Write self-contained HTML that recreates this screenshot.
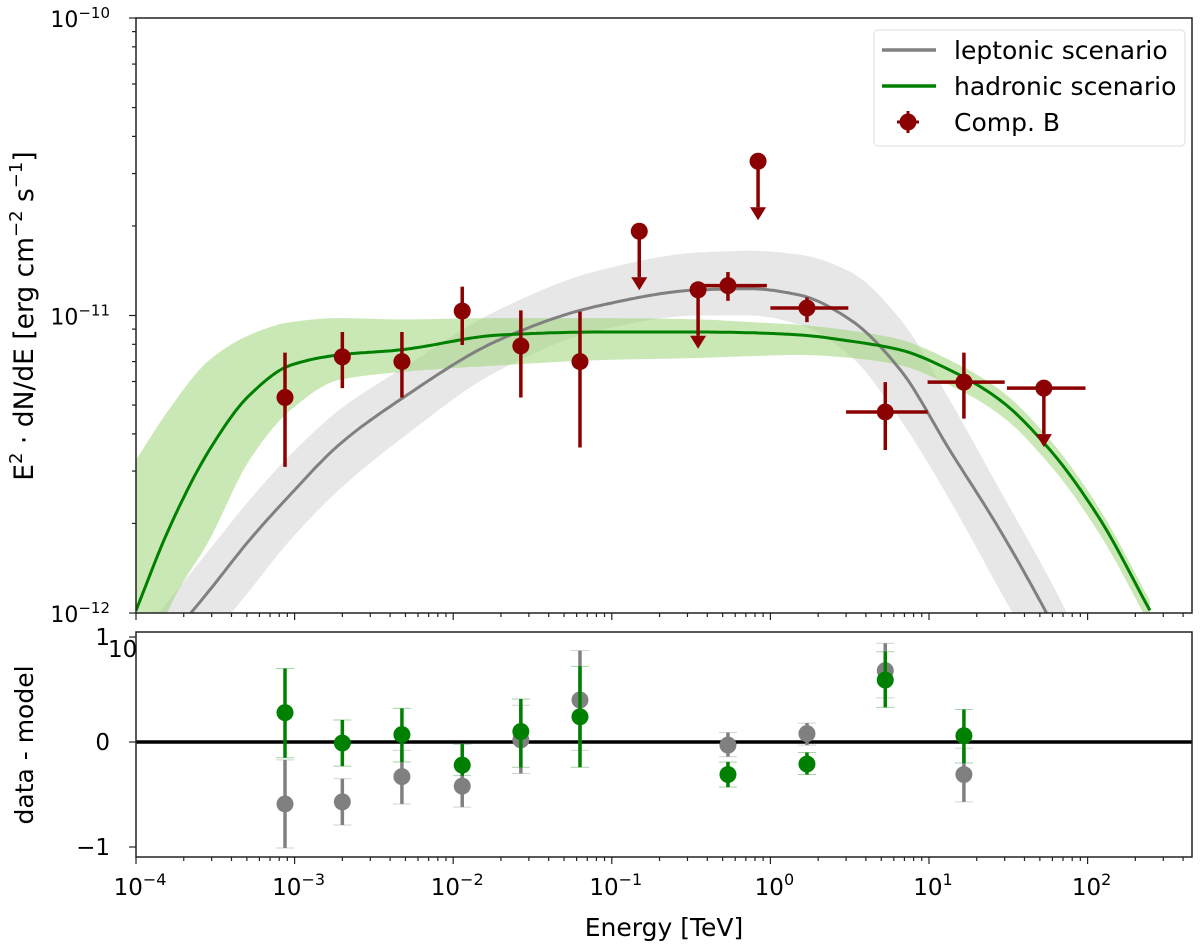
<!DOCTYPE html>
<html><head><meta charset="utf-8">
<style>
html,body{margin:0;padding:0;background:#fff;}
svg{display:block;font-family:"DejaVu Sans","Liberation Sans",sans-serif;}
</style></head>
<body>
<div style="position:relative;width:1200px;height:946px;">
<svg id="chart" width="1200" height="946" viewBox="0 0 1200 946" xmlns="http://www.w3.org/2000/svg" style="position:absolute;left:0;top:0;">
<defs>
<clipPath id="clipTop"><rect x="136" y="18" width="1056" height="595"/></clipPath>
<clipPath id="clipBot"><rect x="136" y="632" width="1056" height="225"/></clipPath>
</defs>
<g id="topPanel"></g>
<g id="botPanel"></g>
<g id="axesG"></g>
<text x="108" y="657" font-size="23">10</text>
<text x="664" y="936" font-size="25" text-anchor="middle">Energy [TeV]</text>
<text transform="translate(33,316) rotate(-90)" font-size="26.5" text-anchor="middle">E<tspan dy="-11" font-size="18">2</tspan><tspan dy="11"> · dN/dE [erg cm</tspan><tspan dy="-11" font-size="18">−2</tspan><tspan dy="11"> s</tspan><tspan dy="-11" font-size="18">−1</tspan><tspan dy="11">]</tspan></text>
<text transform="translate(33,745) rotate(-90)" font-size="25" text-anchor="middle">data - model</text>
<g>
<rect x="874" y="30" width="311" height="116" rx="4" fill="#fff" fill-opacity="0.85" stroke="#ddd" stroke-width="1"/>
<line x1="882" x2="936" y1="50" y2="50" stroke="#808080" stroke-width="3.5"/>
<text x="954" y="59" font-size="25">leptonic scenario</text>
<line x1="882" x2="936" y1="86" y2="86" stroke="#008000" stroke-width="3.5"/>
<text x="954" y="95" font-size="25">hadronic scenario</text>
<line x1="897" x2="919" y1="122" y2="122" stroke="#8b0000" stroke-width="3"/>
<line x1="908" x2="908" y1="111" y2="133" stroke="#8b0000" stroke-width="3"/>
<circle cx="908" cy="122" r="8.5" fill="#8b0000"/>
<text x="954" y="131" font-size="25">Comp. B</text>
</g>
</svg>
</div>
<script>
// ---- model curves (energy TeV, E^2 dN/dE) ----
const curveE = [1e-4,1.6e-4,2.9e-4,5.2e-4,9.4e-4,1.9e-3,4.6e-3,0.0197,0.084,0.36,0.75,1.54,3.2,6.6,13.5,28,58,120,247];
const hadF   = [1.02e-12,1.9e-12,3.53e-12,5.4e-12,6.8e-12,7.37e-12,7.66e-12,8.6e-12,8.8e-12,8.8e-12,8.75e-12,8.6e-12,8.2e-12,7.66e-12,6.56e-12,5.2e-12,3.53e-12,2.06e-12,1.02e-12];
const hadUp  = [3.27e-12,4.8e-12,7.08e-12,8.6e-12,9.5e-12,9.8e-12,9.7e-12,9.8e-12,9.8e-12,9.7e-12,9.5e-12,9.3e-12,8.9e-12,8.3e-12,7.08e-12,5.62e-12,3.82e-12,2.22e-12,1.1e-12];
const hadLo  = [4.4e-13,1.02e-12,1.76e-12,3.27e-12,4.8e-12,6.07e-12,6.45e-12,6.8e-12,7.08e-12,7.2e-12,7.3e-12,7.37e-12,7.2e-12,6.8e-12,5.83e-12,4.64e-12,3.14e-12,1.83e-12,9.1e-13];
const lepF   = [5.96e-13,8.1e-13,1.19e-12,1.76e-12,2.5e-12,3.67e-12,5.2e-12,8.3e-12,1.08e-11,1.22e-11,1.23e-11,1.17e-11,9.66e-12,6.56e-12,3.53e-12,1.9e-12,9.5e-13,4.4e-13,1.6e-13];
const lepUp  = [8.1e-13,1.1e-12,1.63e-12,2.4e-12,3.4e-12,4.8e-12,6.56e-12,1.05e-11,1.42e-11,1.63e-11,1.65e-11,1.6e-11,1.4e-11,9.7e-12,5.2e-12,2.59e-12,1.29e-12,5.96e-13,2.75e-13];
const lepLo  = [4.4e-13,5.5e-13,8.1e-13,1.19e-12,1.76e-12,2.59e-12,3.82e-12,6.56e-12,8.93e-12,1.0e-11,1.0e-11,9.3e-12,7.3e-12,4.46e-12,2.4e-12,1.19e-12,5.96e-13,2.75e-13,1.27e-13];
// ---- Comp. B flux points ----
const ptE    = [8.7e-4,2.0e-3,4.75e-3,1.14e-2,2.67e-2,6.3e-2,0.149,0.35,0.54,0.836,1.7,5.3,16.6,53];
const ptF    = [5.3e-12,7.26e-12,7.0e-12,1.035e-11,7.9e-12,7.0e-12,1.92e-11,1.22e-11,1.26e-11,3.3e-11,1.06e-11,4.74e-12,5.97e-12,5.7e-12];
const ptFup  = [7.5e-12,8.8e-12,8.8e-12,1.25e-11,1.04e-11,1.03e-11,null,null,1.40e-11,null,1.15e-11,5.97e-12,7.5e-12,null];
const ptFlo  = [3.1e-12,5.7e-12,5.3e-12,7.96e-12,5.3e-12,3.6e-12,null,null,1.12e-11,null,9.5e-12,3.53e-12,4.5e-12,null];
const ptElo  = [null,null,null,null,null,null,null,null,0.32,null,1.0,3.0,9.8,31];
const ptEhi  = [null,null,null,null,null,null,null,null,0.95,null,3.1,9.8,30,97];
const ptUL   = [false,false,false,false,false,false,true,true,false,true,false,false,false,true];
// ---- residuals ----
const resE   = [8.7e-4,2.0e-3,4.75e-3,1.14e-2,2.67e-2,6.3e-2,0.54,1.7,5.3,16.6];
const resLep = [-0.59,-0.57,-0.33,-0.42,0.02,0.40,-0.03,0.08,0.68,-0.31];
const resLepUp=[-0.17,-0.35,-0.08,-0.22,0.35,0.87,0.09,0.18,0.94,-0.06];
const resLepLo=[-1.01,-0.79,-0.59,-0.62,-0.30,-0.08,-0.14,-0.03,0.42,-0.57];
const resHad = [0.28,-0.01,0.07,-0.22,0.10,0.24,-0.31,-0.21,0.59,0.06];
const resHadUp=[0.70,0.21,0.32,-0.02,0.41,0.72,-0.19,-0.10,0.86,0.31];
const resHadLo=[-0.15,-0.23,-0.19,-0.32,-0.24,-0.24,-0.43,-0.31,0.33,-0.20];
const xTickLabels = ["-4","-3","-2","-1","0","1","2"];

const NS="http://www.w3.org/2000/svg";
const X0=136,X1=1192,DEC=158.6;
const TY0=18,TY1=613; const BY0=632,BY1=857;
function xs(e){return X0+(Math.log10(e)+4)*DEC;}
function ys(f){return TY0+(-10-Math.log10(f))*297.5;}
function yr(v){return 742-v*105;}
function mk(tag,attrs,parent){const e=document.createElementNS(NS,tag);for(const k in attrs)e.setAttribute(k,attrs[k]);parent.appendChild(e);return e;}
// monotone cubic (Fritsch-Carlson) sampled
function mono(pts){
  const n=pts.length,xsA=pts.map(p=>p[0]),ysA=pts.map(p=>p[1]);
  const d=[],m=[];
  for(let i=0;i<n-1;i++)d.push((ysA[i+1]-ysA[i])/(xsA[i+1]-xsA[i]));
  m[0]=d[0];m[n-1]=d[n-2];
  for(let i=1;i<n-1;i++){ if(d[i-1]*d[i]<=0)m[i]=0; else {const h0=xsA[i]-xsA[i-1],h1=xsA[i+1]-xsA[i];const w1=2*h1+h0,w2=h1+2*h0;m[i]=(w1+w2)/(w1/d[i-1]+w2/d[i]);} }
  const out=[];
  for(let i=0;i<n-1;i++){const h=xsA[i+1]-xsA[i];const N=Math.max(4,Math.ceil(h/4));
    for(let k=0;k<N;k++){const t=k/N,t2=t*t,t3=t2*t;
      const y=(2*t3-3*t2+1)*ysA[i]+(t3-2*t2+t)*h*m[i]+(-2*t3+3*t2)*ysA[i+1]+(t3-t2)*h*m[i+1];
      out.push([xsA[i]+t*h,y]);}}
  out.push(pts[n-1]);return out;
}
function pathOf(p){return "M"+p.map(q=>q[0].toFixed(1)+","+q[1].toFixed(1)).join(" L");}
function line(F){return mono(curveE.map((e,i)=>[xs(e),ys(F[i])]));}
function band(U,L){return pathOf(line(U).concat(line(L).reverse()))+" Z";}

const topG=document.getElementById('topPanel');
const gt=mk('g',{'clip-path':'url(#clipTop)'},topG);
let node;
node=mk('path',{d:band(lepUp,lepLo),fill:'#e4e4e4',opacity:'0.9'},gt);


node=mk('path',{d:band(hadUp,hadLo),fill:'#9ed67a',opacity:'0.55'},gt);


node=mk('path',{d:pathOf(line(lepF)),fill:'none',stroke:'#808080','stroke-width':3},gt);


node=mk('path',{d:pathOf(line(hadF)),fill:'none',stroke:'#008000','stroke-width':3},gt);



const C='#8b0000';
ptE.forEach((e,i)=>{
  const g=mk('g',{},gt);
  
  
  const x=xs(e),y=ys(ptF[i]);
  if(ptElo[i]) mk('line',{x1:xs(ptElo[i]),x2:xs(ptEhi[i]),y1:y,y2:y,stroke:C,'stroke-width':3.5},g);
  if(ptUL[i]){
    mk('line',{x1:x,x2:x,y1:y,y2:y+46,stroke:C,'stroke-width':3.5},g);
    mk('polygon',{points:(x-8)+","+(y+46)+" "+(x+8)+","+(y+46)+" "+x+","+(y+59),fill:C},g);
  } else if(ptFup[i]) {
    mk('line',{x1:x,x2:x,y1:ys(ptFup[i]),y2:ys(ptFlo[i]),stroke:C,'stroke-width':3.5},g);
  }
  mk('circle',{cx:x,cy:y,r:8.5,fill:C},g);
});

const botG=document.getElementById('botPanel');
const gb=mk('g',{'clip-path':'url(#clipBot)'},botG);
node=mk('line',{x1:X0,x2:X1,y1:yr(0),y2:yr(0),stroke:'#000','stroke-width':3.5},gb);


function resid(vals,up,lo,col,name){
  resE.forEach((e,i)=>{
    const g=mk('g',{},gb);
    
    
    const x=xs(e);
    mk('line',{x1:x,x2:x,y1:yr(up[i]),y2:yr(lo[i]),stroke:col,'stroke-width':3.5},g);
    mk('line',{x1:x-9,x2:x+9,y1:yr(up[i]),y2:yr(up[i]),stroke:col,'stroke-width':1,opacity:0.35},g);
    mk('line',{x1:x-9,x2:x+9,y1:yr(lo[i]),y2:yr(lo[i]),stroke:col,'stroke-width':1,opacity:0.35},g);
    mk('circle',{cx:x,cy:yr(vals[i]),r:8.5,fill:col},g);
  });
}
resid(resLep,resLepUp,resLepLo,'#808080','residual-leptonic');
resid(resHad,resHadUp,resHadLo,'#008000','residual-hadronic');

// ---- axes ----
const ax=document.getElementById('axesG');
function frame(y0,y1,name){const r=mk('rect',{x:X0,y:y0,width:X1-X0,height:y1-y0,fill:'none',stroke:'#222','stroke-width':1.5},ax);}
frame(TY0,TY1,'top-frame');frame(BY0,BY1,'bottom-frame');
for(let d=-4;d<=2;d++){
  for(let m=1;m<10;m++){
    const x=X0+(d+4+Math.log10(m))*DEC; if(x>X1)continue;
    const L=m==1?7:4;
    mk('line',{x1:x,x2:x,y1:TY1,y2:TY1+L,stroke:'#222','stroke-width':1.2},ax);
    mk('line',{x1:x,x2:x,y1:BY1,y2:BY1+L,stroke:'#222','stroke-width':1.2},ax);
  }
}
xTickLabels.forEach((s,i)=>{
  const x=X0+i*DEC;
  const t=mk('text',{x:x+4,y:895,'font-size':23,'text-anchor':'middle'},ax);
  
  
  t.innerHTML='10<tspan dy="-10" font-size="16">'+s.replace('-','\u2212')+'</tspan>';
});
for(let d=-12;d<-10;d++)for(let m=1;m<10;m++){const y=ys(m*Math.pow(10,d));mk('line',{x1:X0,x2:X0-(m==1?7:4),y1:y,y2:y,stroke:'#222','stroke-width':1.2},ax);}
mk('line',{x1:X0,x2:X0-7,y1:TY0,y2:TY0,stroke:'#222','stroke-width':1.2},ax);
[["\u221210",TY0],["\u221211",ys(1e-11)],["\u221212",TY1]].forEach(a=>{
  const t=mk('text',{x:110,y:a[1]+9,'font-size':22,'text-anchor':'end'},ax);
  
  
  t.innerHTML='10<tspan dy="-9" font-size="15">'+a[0]+'</tspan>';
});
[[1,'1'],[0,'0'],[-1,'\u22121']].forEach(a=>{
  const y=yr(a[0]);
  mk('line',{x1:X0,x2:X0-7,y1:y,y2:y,stroke:'#222','stroke-width':1.2},ax);
  const t=mk('text',{x:110,y:y+8,'font-size':23,'text-anchor':'end'},ax);
  
  
  t.textContent=a[1];
});
</script>
</body></html>
